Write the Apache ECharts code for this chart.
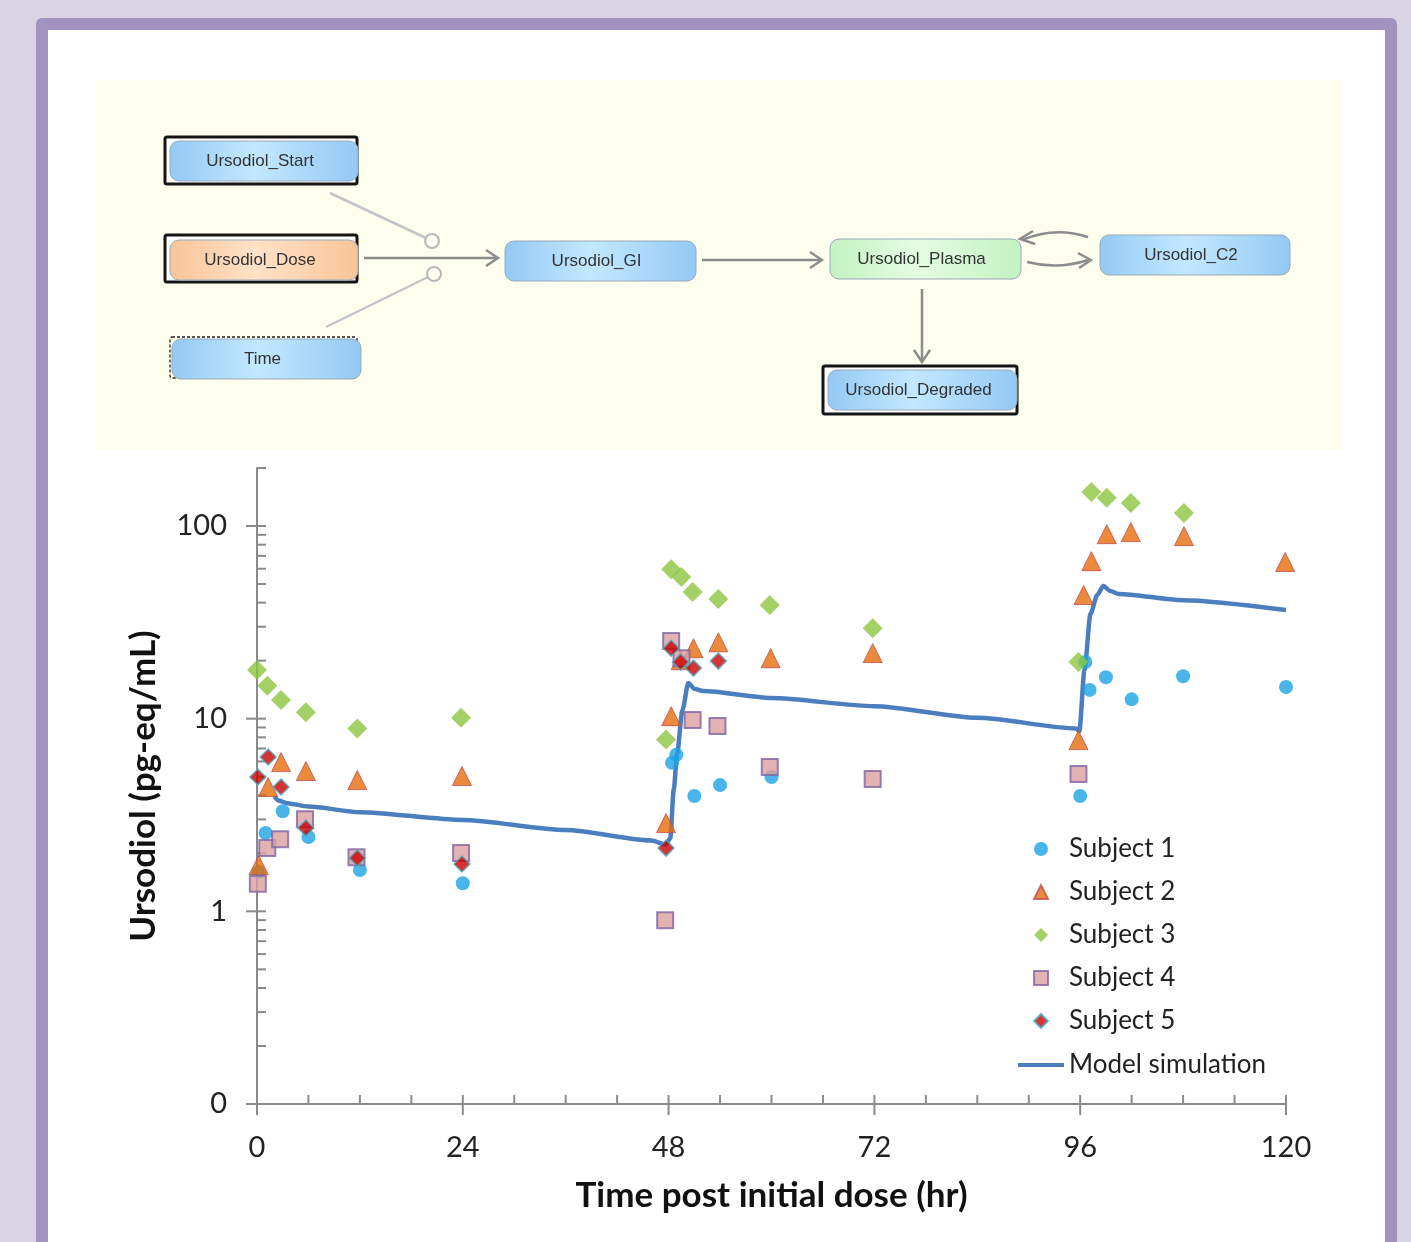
<!DOCTYPE html>
<html>
<head>
<meta charset="utf-8">
<title>Ursodiol PK model</title>
<script src="https://cdn.jsdelivr.net/npm/echarts@6/dist/echarts.min.js"></script>
<style>
    html, body { margin: 0; padding: 0; background: #d8d4e4; overflow: hidden; }
    #frame {
        position: absolute; left: 36px; top: 18px; width: 1361px; height: 1260px;
        box-sizing: border-box; border: 12px solid #a093bd; border-radius: 6px; background: #fff;
    }
    #chart { position: absolute; left: 0; top: 0; width: 1411px; height: 1242px; }
</style>
</head>
<body>
<div id="frame"></div>
<div id="chart"></div>
<script>
// measured concentrations [time (hr), Ursodiol (pg-eq/mL)]
const subject1 = [[0.2, 1.6], [1, 2.55], [3, 3.31], [6, 2.43], [12, 1.64], [24, 1.40],
    [48.4, 5.9], [48.9, 6.5], [51, 3.97], [54, 4.52], [60, 4.98],
    [96, 3.97], [96.6, 19.7], [97.1, 14.1], [99, 16.4], [102, 12.6], [108, 16.6], [120, 14.6]];
const subject2 = [[0.2, 1.74], [1.3, 4.42], [2.8, 5.95], [5.7, 5.35], [11.7, 4.8], [23.9, 5.04],
    [47.7, 2.87], [48.3, 10.3], [49.4, 20.1], [50.9, 23.2], [53.8, 24.9], [59.9, 20.6], [71.8, 21.9],
    [95.8, 7.74], [96.4, 43.8], [97.3, 65.7], [99.1, 90.7], [101.9, 93], [108.1, 88.6], [119.9, 65]];
const subject3 = [[0, 17.9], [1.2, 14.8], [2.8, 12.5], [5.7, 10.8], [11.7, 8.9], [23.8, 10.1],
    [47.7, 7.8], [48.3, 59.7], [49.5, 54.3], [50.8, 45.4], [53.8, 41.8], [59.8, 38.9], [71.8, 29.5],
    [95.8, 19.7], [97.3, 150], [99.1, 140], [101.9, 131.5], [108.1, 116.7]];
const subject4 = [[0.1, 1.39], [1.2, 2.13], [2.7, 2.37], [5.6, 3.01], [11.6, 1.91], [23.8, 2.01],
    [47.6, 0.9], [48.3, 25.3], [49.5, 20.6], [50.8, 9.84], [53.7, 9.16], [59.8, 5.61], [71.8, 4.86],
    [95.8, 5.16]];
const subject5 = [[0.1, 4.98], [1.3, 6.32], [2.8, 4.42], [5.7, 2.71], [11.7, 1.89], [23.9, 1.76],
    [47.7, 2.13], [48.3, 23.2], [49.4, 19.7], [50.9, 18.3], [53.8, 19.9]];

// model simulation curve
const modelSim = [[2, 3.95], [2.6, 3.75], [3.5, 3.64], [6, 3.5], [12, 3.27], [24, 2.98], [36, 2.64],
    [46, 2.33], [47.7, 2.22], [48.2, 2.4], [48.6, 4.3], [49, 6.6], [49.6, 11], [50.3, 15.3], [51, 14.3],
    [52, 13.9], [60, 12.8], [72, 11.6], [84, 10.1], [95.5, 8.9], [95.9, 8.6], [96.5, 17.9], [97.2, 35],
    [98, 44], [98.7, 48.8], [99.5, 46], [100.5, 44.4], [108, 41.2], [120, 36.6]];

const subjectNames = ['Subject 1', 'Subject 2', 'Subject 3', 'Subject 4', 'Subject 5'];
const modelName = 'Model simulation';

// axis ticks
const xMajorTicks = [0, 24, 48, 72, 96, 120];
const xMinorTicks = [6, 12, 18, 30, 36, 42, 54, 60, 66, 78, 84, 90, 102, 108, 114];
const yMajorTicks = [0.1, 1, 10, 100];
const yMinorTicks = [0.2, 0.3, 0.4, 0.5, 0.6, 0.7, 0.8, 0.9, 2, 3, 4, 5, 6, 7, 8, 9,
    20, 30, 40, 50, 60, 70, 80, 90, 200];

// compartment model diagram
const diagramNodes = ['Ursodiol_Start', 'Ursodiol_Dose', 'Time', 'Ursodiol_GI',
    'Ursodiol_Plasma', 'Ursodiol_C2', 'Ursodiol_Degraded'];

const FONT = 'Lato, "Noto Sans", sans-serif';
const AXIS_GRAY = '#8a8a8a';

const chart = echarts.init(document.getElementById('chart'));

// ---- diagram helpers ----
function boxGradient(edge, mid) {
    return new echarts.graphic.LinearGradient(0, 0, 1, 0, [
        { offset: 0, color: edge }, { offset: 0.45, color: mid }, { offset: 1, color: edge }]);
}
const blueFill = boxGradient('#93c9f5', '#c3e8ff');
const orangeFill = boxGradient('#f9c497', '#ffe2c8');
const greenFill = boxGradient('#c4f2c2', '#e4fde2');

const nodeLayout = {
    Ursodiol_Start: { box: [170, 141, 188, 40], fill: blueFill, frame: [165, 137, 192, 47] },
    Ursodiol_Dose: { box: [170, 240, 188, 40], fill: orangeFill, frame: [165, 235, 192, 47] },
    Time: { box: [172, 339, 189, 40], fill: blueFill, frame: [170, 337, 187, 41], dashed: true },
    Ursodiol_GI: { box: [505, 241, 191, 40], fill: blueFill },
    Ursodiol_Plasma: { box: [830, 239, 191, 40], fill: greenFill },
    Ursodiol_C2: { box: [1100, 235, 190, 40], fill: blueFill },
    Ursodiol_Degraded: { box: [828, 370, 189, 40], fill: blueFill, frame: [823, 366, 194, 48] }
};

function nodeGraphics(name) {
    const n = nodeLayout[name];
    const [x, y, w, h] = n.box;
    const els = [];
    if (n.frame) {
        els.push({
            type: 'rect', shape: { x: n.frame[0], y: n.frame[1], width: n.frame[2], height: n.frame[3], r: 2 },
            style: n.dashed
                ? { fill: 'none', stroke: '#222', lineWidth: 1.3, lineDash: [3, 2] }
                : { fill: '#fff', stroke: '#151515', lineWidth: 3 }
        });
    }
    els.push({
        type: 'rect', shape: { x: x, y: y, width: w, height: h, r: 9 },
        style: { fill: n.fill, stroke: '#9aa9b8', lineWidth: 1 }
    });
    els.push({
        type: 'text', x: x + w / 2 - 4, y: y + h / 2,
        style: {
            text: name, fill: '#333', font: '17px "Liberation Sans", Arial, sans-serif',
            align: 'center', verticalAlign: 'middle'
        }
    });
    return els;
}

function arrowLine(x1, y1, x2, y2) {
    return { type: 'line', shape: { x1, y1, x2, y2 }, style: { stroke: '#8c8c8c', lineWidth: 2.5 } };
}
function chevron(points) {
    return { type: 'polyline', shape: { points }, style: { stroke: '#8c8c8c', lineWidth: 2.5, fill: 'none' } };
}

const diagram = [
    { type: 'rect', shape: { x: 96, y: 80, width: 1245, height: 370 }, style: { fill: '#fdfeee' } },
    // influence links
    { type: 'line', shape: { x1: 330, y1: 193, x2: 426, y2: 238 }, style: { stroke: '#c4c4c4', lineWidth: 2.5 } },
    { type: 'circle', shape: { cx: 432, cy: 241, r: 7 }, style: { fill: '#fdfeee', stroke: '#b8b8b8', lineWidth: 2 } },
    { type: 'line', shape: { x1: 326, y1: 327, x2: 428, y2: 277 }, style: { stroke: '#c4c4c4', lineWidth: 2.5 } },
    { type: 'circle', shape: { cx: 434, cy: 274, r: 7 }, style: { fill: '#fdfeee', stroke: '#b8b8b8', lineWidth: 2 } },
    // flows
    arrowLine(364, 258, 497, 258), chevron([[486, 250], [498, 258], [486, 266]]),
    arrowLine(702, 260, 821, 260), chevron([[810, 252], [822, 260], [810, 268]]),
    arrowLine(922, 289, 922, 361), chevron([[914, 350], [922, 362], [930, 350]]),
    { type: 'bezierCurve', shape: { x1: 1027, y1: 262, x2: 1088, y2: 260, cpx1: 1058, cpy1: 270 },
        style: { stroke: '#8c8c8c', lineWidth: 2.5, fill: 'none' } },
    chevron([[1078, 253], [1091, 260], [1079, 268]]),
    { type: 'bezierCurve', shape: { x1: 1088, y1: 237, x2: 1022, y2: 240, cpx1: 1055, cpy1: 226 },
        style: { stroke: '#8c8c8c', lineWidth: 2.5, fill: 'none' } },
    chevron([[1033, 231], [1020, 239], [1035, 244]])
];
diagramNodes.forEach(name => diagram.push(...nodeGraphics(name)));

// ---- tick marks drawn on the axes ----
const tickData = [
    ...xMinorTicks.map(v => [v, 0.1, 0]),
    ...xMajorTicks.map(v => [v, 0.1, 1]),
    ...yMinorTicks.map(v => [0, v, 2]),
    ...yMajorTicks.map(v => [0, v, 3])
];

function renderTick(params, api) {
    const p = api.coord([api.value(0), api.value(1)]);
    const kind = api.value(2);
    let shape;
    if (kind === 0) shape = { x1: p[0], y1: p[1] - 9, x2: p[0], y2: p[1] };
    else if (kind === 1) shape = { x1: p[0], y1: p[1] - 9, x2: p[0], y2: p[1] + 11 };
    else if (kind === 2) shape = { x1: p[0], y1: p[1], x2: p[0] + 9, y2: p[1] };
    else shape = { x1: p[0] - 11, y1: p[1], x2: p[0] + 9, y2: p[1] };
    return { type: 'line', shape: shape, style: { stroke: AXIS_GRAY, lineWidth: 2 } };
}

function yLabel(v) {
    const e = Math.round(Math.log10(v) * 1000) / 1000;
    if (e === -1) return '0';
    if (Number.isInteger(e) && e >= 0) return String(Math.round(v));
    return '';
}

const option = {
    animation: false,
    backgroundColor: 'transparent',
    graphic: { elements: diagram },
    grid: { left: 257, right: 125, top: 468, bottom: 138 },
    legend: [
        {
            data: subjectNames, orient: 'vertical', left: 1028, top: 831,
            itemWidth: 14, itemHeight: 14, itemGap: 17,
            textStyle: { fontFamily: FONT, fontSize: 26, color: '#222', padding: [0, 0, 0, 16] }
        },
        {
            data: [{ name: modelName, icon: 'rect' }], orient: 'vertical', left: 1013, top: 1047,
            itemWidth: 46, itemHeight: 4,
            textStyle: { fontFamily: FONT, fontSize: 26, color: '#222' }
        }
    ],
    xAxis: {
        type: 'value', min: 0, max: 120, interval: 24,
        name: 'Time post initial dose (hr)', nameLocation: 'middle', nameGap: 74,
        nameTextStyle: { fontFamily: FONT, fontSize: 35, fontWeight: 'bold', color: '#111' },
        axisLine: { lineStyle: { color: AXIS_GRAY, width: 2 } },
        axisTick: { show: false },
        axisLabel: { fontFamily: FONT, fontSize: 29, color: '#222', margin: 29 },
        splitLine: { show: false }
    },
    yAxis: {
        type: 'log', logBase: 10, min: 0.1, max: 200,
        name: 'Ursodiol (pg-eq/mL)', nameLocation: 'middle', nameGap: 96,
        nameTextStyle: { fontFamily: FONT, fontSize: 35, fontWeight: 'bold', color: '#111' },
        axisLine: { show: true, lineStyle: { color: AXIS_GRAY, width: 2 } },
        axisTick: { show: false },
        axisLabel: { fontFamily: FONT, fontSize: 29, color: '#222', margin: 30, formatter: yLabel },
        splitLine: { show: false }
    },
    series: [
        {
            name: 'ticks', type: 'custom', data: tickData, renderItem: renderTick,
            silent: true, clip: false, z: 1
        },
        {
            name: modelName, type: 'line', data: modelSim, symbol: 'none',
            smooth: 0.25, smoothMonotone: 'x',
            lineStyle: { color: '#4a7ebf', width: 4.5 }, itemStyle: { color: '#4a7ebf' }, z: 2
        },
        {
            name: subjectNames[0], type: 'scatter', data: subject1, symbol: 'circle', symbolSize: 14,
            itemStyle: { color: '#1ca3e4' }, z: 3
        },
        {
            name: subjectNames[1], type: 'scatter', data: subject2, symbol: 'triangle', symbolSize: 19,
            itemStyle: { color: '#e66c0c', borderColor: '#c0504d', borderWidth: 1 }, z: 3
        },
        {
            name: subjectNames[2], type: 'scatter', data: subject3, symbol: 'diamond', symbolSize: 20,
            itemStyle: { color: '#8cc63f' }, z: 3
        },
        {
            name: subjectNames[3], type: 'scatter', data: subject4, symbol: 'rect', symbolSize: 16,
            itemStyle: { color: '#dca0a0', borderColor: '#8064a2', borderWidth: 2 }, z: 3
        },
        {
            name: subjectNames[4], type: 'scatter', data: subject5, symbol: 'diamond', symbolSize: 16,
            itemStyle: { color: '#cc0000', borderColor: '#4bacc6', borderWidth: 1.5 }, z: 3
        }
    ]
};

chart.setOption(option);

window.addEventListener('resize', function () {
    chart.resize();
});
</script>
</body>
</html>
